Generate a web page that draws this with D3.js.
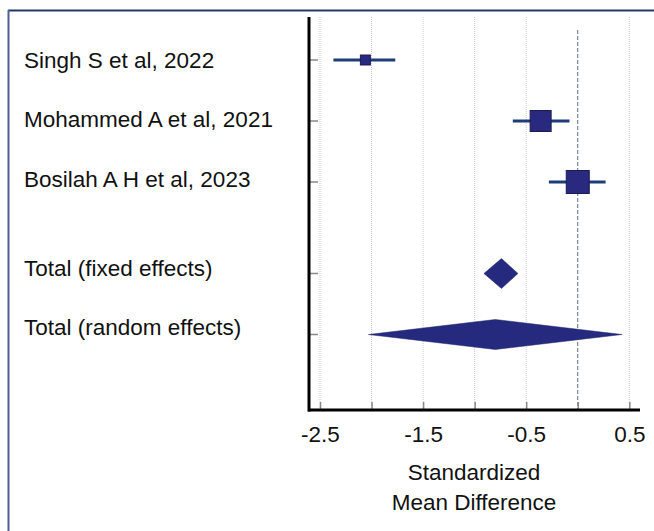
<!DOCTYPE html>
<html>
<head>
<meta charset="utf-8">
<script src="https://cdn.jsdelivr.net/npm/d3@7"></script>
<style>
	body { margin: 0; background: #fff; }
	svg { display: block; font-family: "Liberation Sans", Arial, sans-serif; }
</style>
</head>
<body>
<script>
// Study estimates (standardized mean difference, 95% CI, weight %)
const studies = ['Singh S et al, 2022', 'Mohammed A et al, 2021', 'Bosilah A H et al, 2023'];
const smd = [-2.06, -0.36, 0.0];
const lower = [-2.37, -0.63, -0.28];
const upper = [-1.77, -0.08, 0.27];
const weights = [9.3, 41.2, 49.5];

// Pooled estimates
const pooled = ['Total (fixed effects)', 'Total (random effects)'];
const pooledSmd = [-0.74, -0.80];
const pooledLower = [-0.91, -2.03];
const pooledUpper = [-0.58, 0.43];

// Row positions and axis ticks
const studyRows = [1, 2, 3];
const pooledRows = [4.5, 5.5];
const xTicks = [-2.5, -2, -1.5, -1, -0.5, 0, 0.5];
const xTickLabels = ['-2.5', '', '-1.5', '', '-0.5', '', '0.5'];

const W = 654, H = 531;
const fontSize = '22.5px';
const svg = d3.select('body').append('svg')
	.attr('width', W)
	.attr('height', H);

// Frame lines of the figure panel
svg.append('line')
	.attr('x1', 8).attr('x2', W)
	.attr('y1', 10.5).attr('y2', 10.5)
	.attr('stroke', '#1f3864').attr('stroke-width', 2);
svg.append('line')
	.attr('x1', 8.5).attr('x2', 8.5)
	.attr('y1', 10).attr('y2', H)
	.attr('stroke', '#4f5d9b').attr('stroke-width', 2);

// Scales
const x = d3.scaleLinear().domain([-2.5, 0.5]).range([320, 629.3]);
const y = d3.scaleLinear().domain([1, 2]).range([60, 121]);
const yLabel = d3.scaleLinear().domain([1, 2]).range([68, 127.4]);
const side = d3.scaleSqrt().domain([0, 49.5]).range([0, 23]);

const xLo = x.invert(308), xHi = x.invert(640);
const yTop = y.invert(17), yBottom = y.invert(410);

// Gridlines
svg.append('g')
	.selectAll('line')
	.data(xTicks.filter(d => d !== 0))
	.enter().append('line')
	.attr('x1', d => x(d)).attr('x2', d => x(d))
	.attr('y1', y(yTop)).attr('y2', y(yBottom))
	.attr('stroke', '#c8c8c8')
	.attr('stroke-width', 1)
	.attr('stroke-dasharray', '1,1');

// Line of no effect
svg.append('line')
	.attr('x1', x(0)).attr('x2', x(0))
	.attr('y1', 30).attr('y2', y(yBottom))
	.attr('stroke', '#5f6b78')
	.attr('stroke-width', 1)
	.attr('stroke-dasharray', '4,2');

// X axis
const xAxis = d3.axisBottom(x)
	.tickValues(xTicks)
	.tickSize(-8)
	.tickPadding(16)
	.tickFormat((d, i) => xTickLabels[i]);

const gx = svg.append('g')
	.attr('transform', `translate(0, ${y(yBottom)})`)
	.call(xAxis);
gx.select('.domain').remove();
gx.selectAll('.tick line').attr('stroke', '#888').attr('stroke-width', 1.5);
gx.selectAll('.tick text')
	.attr('fill', '#111')
	.style('font-size', fontSize);

// Y axis ticks
svg.append('g')
	.selectAll('line')
	.data(studyRows.concat(pooledRows))
	.enter().append('line')
	.attr('x1', 309).attr('x2', 318)
	.attr('y1', d => y(d)).attr('y2', d => y(d))
	.attr('stroke', '#888').attr('stroke-width', 1.5);

// Axis lines
svg.append('line')
	.attr('x1', 309).attr('x2', 309)
	.attr('y1', y(yTop)).attr('y2', y(yBottom) + 1.5)
	.attr('stroke', '#000').attr('stroke-width', 3);
svg.append('line')
	.attr('x1', x(xLo)).attr('x2', x(xHi))
	.attr('y1', y(yBottom)).attr('y2', y(yBottom))
	.attr('stroke', '#000').attr('stroke-width', 3);

// Axis title
const titleX = (x(xLo) + x(xHi)) / 2;
const title = svg.append('text')
	.attr('text-anchor', 'middle')
	.attr('fill', '#111')
	.style('font-size', fontSize);
title.append('tspan').attr('x', titleX).attr('y', 480).text('Standardized');
title.append('tspan').attr('x', titleX).attr('y', 510).text('Mean Difference');

// Row labels
svg.append('g')
	.selectAll('text')
	.data(studies.concat(pooled))
	.enter().append('text')
	.attr('x', 24)
	.attr('y', (d, i) => yLabel(studyRows.concat(pooledRows)[i]))
	.attr('fill', '#111')
	.style('font-size', fontSize)
	.text(d => d);

// Confidence intervals
svg.append('g')
	.selectAll('line')
	.data(studies)
	.enter().append('line')
	.attr('x1', (d, i) => x(lower[i]))
	.attr('x2', (d, i) => x(upper[i]))
	.attr('y1', (d, i) => y(studyRows[i]))
	.attr('y2', (d, i) => y(studyRows[i]))
	.attr('stroke', '#1f3c78')
	.attr('stroke-width', 3);

// Study squares
svg.append('g')
	.selectAll('rect')
	.data(studies)
	.enter().append('rect')
	.attr('x', (d, i) => x(smd[i]) - side(weights[i]) / 2)
	.attr('y', (d, i) => y(studyRows[i]) - side(weights[i]) / 2)
	.attr('width', (d, i) => side(weights[i]))
	.attr('height', (d, i) => side(weights[i]))
	.attr('fill', '#29297f')
	.attr('stroke', '#1b1b55')
	.attr('stroke-width', 1);

// Pooled diamonds
svg.append('g')
	.selectAll('path')
	.data(pooled)
	.enter().append('path')
	.attr('d', (d, i) => {
		const cy = y(pooledRows[i]);
		return `M${x(pooledLower[i])},${cy}L${x(pooledSmd[i])},${cy - 15}` +
			`L${x(pooledUpper[i])},${cy}L${x(pooledSmd[i])},${cy + 15}Z`;
	})
	.attr('fill', '#262a7e')
	.attr('stroke', '#1e2268')
	.attr('stroke-width', 0.5);
</script>
</body>
</html>
